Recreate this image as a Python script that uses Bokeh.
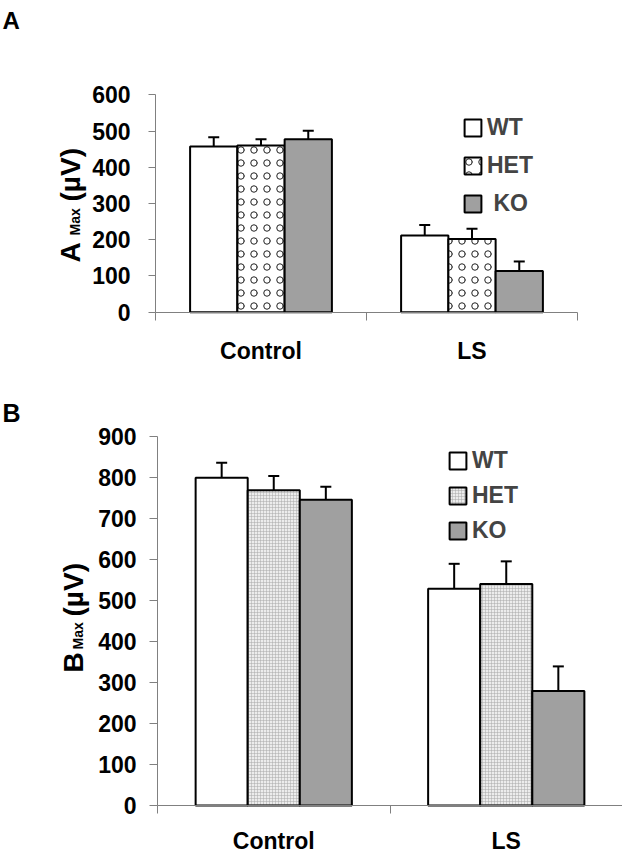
import math
from bokeh.plotting import figure
from bokeh.models import (Range1d, FixedTicker, SingleIntervalTicker, Label, Legend,
                          LegendItem, Whisker, TeeHead, ColumnDataSource)
from bokeh.layouts import column
from bokeh.embed import file_html
from bokeh.resources import INLINE

# ---------------- data ----------------
groups = ["Control", "LS"]
genotypes = ["WT", "HET", "KO"]

a_wt = [457, 212]
a_het = [460, 202]
a_ko = [477, 114]
a_wt_err = [26, 29]
a_het_err = [17, 28]
a_ko_err = [24, 26]

b_wt = [799, 528]
b_het = [768, 540]
b_ko = [745, 279]
b_wt_err = [36, 61]
b_het_err = [35, 55]
b_ko_err = [32, 60]

FONT = "Liberation Sans"
GRAY = "#808080"
W = 622


def make_panel(letter, vals, errs, ymax, ystep, frame, het_style, ko_label,
               legend_loc, legend_spacing, ylab_pos, letter_pos, letter_size, height,
               label_standoff, ytick_standoff, ytick_out):
    left, right, top, bottom = frame  # canvas px where the data area sits
    xpx = (right - left) / len(groups)
    ypx = (bottom - top) / ymax

    def fx(px):
        return (px - left) / xpx

    def fy(py):
        return (bottom - py) / ypx

    p = figure(width=W, height=height, output_backend="svg", toolbar_location=None,
               x_range=Range1d(fx(0), fx(W)), y_range=Range1d(fy(height), fy(0)),
               min_border=0)
    p.outline_line_color = None
    p.xgrid.visible = False
    p.ygrid.visible = False

    w = 0.224
    renderers = []
    styles = [dict(fill_color="white"), het_style, dict(fill_color="#a0a0a0")]
    for k, (g, v, e) in enumerate(zip(genotypes, vals, errs)):
        xs = [i + 0.5 + (k - 1) * w for i in range(len(groups))]
        src = ColumnDataSource(dict(x=xs, top=v, upper=[a + b for a, b in zip(v, e)]))
        r = p.vbar(x="x", top="top", bottom=0, width=w, source=src, line_color="black",
                   line_width=2, **styles[k])
        renderers.append(r)
        wh = Whisker(source=src, base="x", lower="top", upper="upper", dimension="height",
                     line_color="black", line_width=2, lower_head=None,
                     upper_head=TeeHead(size=11, line_width=2, line_color="black"),
                     level="annotation")
        p.add_layout(wh)

    # y axis (fixed at x = 0)
    ya = p.yaxis[0]
    ya.fixed_location = 0
    ya.bounds = (0, ymax)
    ya.ticker = SingleIntervalTicker(interval=ystep, num_minor_ticks=0)
    ya.axis_line_color = GRAY
    ya.major_tick_line_color = GRAY
    ya.major_tick_out = ytick_out
    ya.major_tick_in = 0
    ya.minor_tick_line_color = None
    ya.major_label_text_font = FONT
    ya.major_label_text_font_style = "bold"
    ya.major_label_text_font_size = "23px"
    ya.major_label_text_color = "black"
    ya.major_label_standoff = ytick_standoff

    # x axis (fixed at y = 0): labels at group centres, ticks at group boundaries
    xa = p.xaxis[0]
    xa.fixed_location = 0
    xa.bounds = (0, len(groups))
    centres = [i + 0.5 for i in range(len(groups))]
    xa.ticker = FixedTicker(ticks=centres, minor_ticks=list(range(len(groups) + 1)))
    xa.major_label_overrides = {c: g for c, g in zip(centres, groups)}
    xa.axis_line_color = GRAY
    xa.major_tick_line_color = None
    xa.minor_tick_line_color = GRAY
    xa.minor_tick_out = 8
    xa.minor_tick_in = 0
    xa.major_tick_out = 0
    xa.major_tick_in = 0
    xa.major_label_text_font = FONT
    xa.major_label_text_font_style = "bold"
    xa.major_label_text_font_size = "23px"
    xa.major_label_text_color = "black"
    xa.major_label_standoff = label_standoff

    # legend
    labels = ["WT", "HET", ko_label]
    legend = Legend(items=[LegendItem(label=l, renderers=[r]) for l, r in zip(labels, renderers)],
                    location=legend_loc, orientation="vertical", padding=0, margin=0,
                    spacing=legend_spacing, glyph_width=21, glyph_height=21,
                    label_standoff=4, label_text_font=FONT, label_text_font_style="bold",
                    label_text_font_size="23px", border_line_alpha=0,
                    background_fill_alpha=0)
    p.add_layout(legend)

    # rotated y label with subscript
    bx, by, sx, sy, ux, uy = ylab_pos
    common = dict(angle=math.pi / 2, text_align="left", text_baseline="alphabetic",
                  text_font=FONT, text_font_style="bold", text_color="black")
    p.add_layout(Label(x=fx(bx), y=fy(by), text=letter, text_font_size="28px", **common))
    p.add_layout(Label(x=fx(sx), y=fy(sy), text="Max", text_font_size="14px", **common))
    p.add_layout(Label(x=fx(ux), y=fy(uy), text="(µV)", text_font_size="28px", **common))

    # panel letter
    lx, ly = letter_pos
    p.add_layout(Label(x=fx(lx), y=fy(ly), text=letter, text_align="left",
                       text_baseline="alphabetic", text_font=FONT, text_font_style="bold",
                       text_font_size=letter_size, text_color="black"))
    return p


pA = make_panel("A", [a_wt, a_het, a_ko], [a_wt_err, a_het_err, a_ko_err], 600, 100,
                (155, 577, 94.3, 311.7),
                dict(fill_color="white", hatch_pattern="o", hatch_color="#202020",
                     hatch_scale=13, hatch_weight=1),
                "\u00a0KO", (462, 153), 11,
                (70, 262, 74, 235, 70, 201), (2, 20), "24px", 370, 18, 18, 7)

pB = make_panel("B", [b_wt, b_het, b_ko], [b_wt_err, b_het_err, b_ko_err], 900, 100,
                (157, 622, 65.7, 435),
                dict(fill_color="#ececec", hatch_pattern="+", hatch_color="#a8a8a8",
                     hatch_scale=3, hatch_weight=0.5),
                "KO", (447, 308), 8,
                (73, 302, 77, 279, 73, 246), (2, 42), "25px", 482, 14, 13, 8)

layout = column(pA, pB, spacing=0)

with open("out.html", "w") as f:
    f.write(file_html(layout, INLINE))
